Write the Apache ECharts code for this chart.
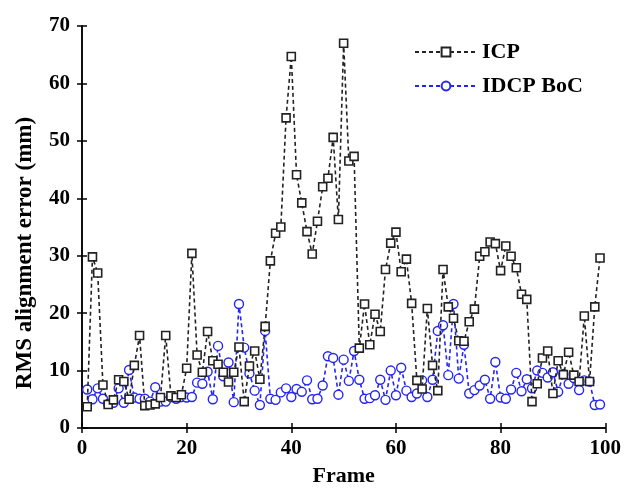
<!DOCTYPE html>
<html>
<head>
<meta charset="utf-8">
<script src="https://cdn.jsdelivr.net/npm/echarts@6/dist/echarts.min.js"></script>
<style>
html,body{margin:0;padding:0;background:#fff;}
#chart{width:624px;height:492px;}
</style>
</head>
<body>
<div id="chart"></div>
<script>
var seriesNames = ['ICP', 'IDCP BoC'];
var xTicks = [0, 20, 40, 60, 80, 100];
var yTicks = [0, 10, 20, 30, 40, 50, 60, 70];

var icp = [3.7, 29.8, 27.0, 7.5, 4.1, 4.9, 8.4, 8.1, 5.0, 10.9,
  16.1, 3.9, 4.0, 4.2, 5.3, 16.1, 5.6, 5.3, 5.8, 10.4,
  30.4, 12.7, 9.7, 16.8, 11.7, 11.1, 9.7, 8.0, 9.7, 14.1,
  4.6, 10.8, 13.4, 8.5, 17.7, 29.1, 33.9, 35.0, 54.0, 64.7,
  44.1, 39.2, 34.2, 30.3, 36.0, 42.0, 43.5, 50.6, 36.3, 67.0,
  46.5, 47.3, 13.9, 21.6, 14.5, 19.8, 16.8, 27.6, 32.2, 34.1,
  27.2, 29.4, 21.7, 8.3, 6.8, 20.8, 10.9, 6.5, 27.6, 21.1,
  19.1, 15.2, 15.1, 18.5, 20.7, 29.9, 30.7, 32.4, 32.1, 27.4,
  31.7, 29.9, 27.9, 23.3, 22.4, 4.6, 7.7, 12.2, 13.4, 6.0,
  11.7, 9.3, 13.2, 9.2, 8.1, 19.5, 8.1, 21.1, 29.6];

var idcp = [6.7, 5.0, 6.9, 5.1, 4.2, 4.4, 6.9, 4.4, 10.1, 5.3,
  5.1, 5.1, 4.6, 7.1, 4.6, 4.6, 5.4, 5.1, 5.4, 5.3,
  5.4, 7.9, 7.7, 9.8, 5.0, 14.3, 9.0, 11.4, 4.5, 21.6,
  14.0, 9.5, 6.5, 4.0, 16.9, 5.1, 4.9, 6.2, 6.9, 5.4,
  6.8, 6.3, 8.3, 5.0, 5.1, 7.4, 12.5, 12.2, 5.8, 11.9,
  8.2, 13.4, 8.4, 5.1, 5.2, 5.7, 8.4, 4.9, 10.0, 5.7,
  10.5, 6.5, 5.4, 6.0, 8.3, 5.4, 8.4, 16.9, 17.9, 9.2,
  21.6, 8.6, 14.5, 6.0, 6.6, 7.4, 8.4, 5.1, 11.5, 5.3,
  5.1, 6.7, 9.6, 6.4, 8.5, 6.9, 10.0, 9.6, 8.8, 9.7,
  6.3, 9.4, 7.7, 8.7, 6.6, 8.3, 8.1, 4.0, 4.1];

function pairs(arr) {
  return arr.map(function (v, i) { return [i + 1, v]; });
}

var FONT = '"Liberation Serif", "Times New Roman", serif';
var BLUE = '#2424f5';

var axisCommon = {
  axisLine: { show: true, lineStyle: { color: '#000', width: 1.5 } },
  axisTick: { show: true, inside: true, length: 5, lineStyle: { color: '#000', width: 1.5 } },
  splitLine: { show: false }
};

var chart = echarts.init(document.getElementById('chart'), null, { renderer: 'canvas' });
chart.setOption({
  backgroundColor: '#fff',
  animation: false,
  grid: { left: 82, right: 17, top: 26, bottom: 55 },
  legend: {
    orient: 'vertical',
    left: 409,
    top: 36,
    itemWidth: 62,
    itemHeight: 11,
    itemGap: 12,
    textStyle: { fontFamily: FONT, fontSize: 22, fontWeight: 'bold', color: '#000' },
    data: seriesNames
  },
  xAxis: [
    Object.assign({}, axisCommon, {
      type: 'value', min: xTicks[0], max: xTicks[xTicks.length - 1], interval: 20,
      position: 'bottom',
      name: 'Frame', nameLocation: 'middle', nameGap: 37,
      nameTextStyle: { fontFamily: FONT, fontSize: 22, fontWeight: 'bold', color: '#000' },
      axisLabel: { fontFamily: FONT, fontSize: 21, fontWeight: 'bold', color: '#000', margin: 10 }
    }),
    Object.assign({}, axisCommon, {
      type: 'value', min: xTicks[0], max: xTicks[xTicks.length - 1], interval: 20,
      position: 'top', axisLabel: { show: false }
    })
  ],
  yAxis: [
    Object.assign({}, axisCommon, {
      type: 'value', min: yTicks[0], max: yTicks[yTicks.length - 1], interval: 10,
      position: 'left',
      name: 'RMS alignment error (mm)', nameLocation: 'middle', nameGap: 45,
      nameTextStyle: { fontFamily: FONT, fontSize: 23, fontWeight: 'bold', color: '#000', padding: [0, 52, 0, 0] },
      axisLabel: { fontFamily: FONT, fontSize: 21, fontWeight: 'bold', color: '#000', margin: 12 }
    }),
    Object.assign({}, axisCommon, {
      type: 'value', min: yTicks[0], max: yTicks[yTicks.length - 1], interval: 10,
      position: 'right', axisLabel: { show: false }
    })
  ],
  series: [
    {
      name: seriesNames[0], type: 'line', data: pairs(icp),
      symbol: 'rect', symbolSize: 8,
      itemStyle: { color: '#fff', borderColor: '#222', borderWidth: 1.6 },
      lineStyle: { color: '#222', width: 1.6, type: [4, 3] },
      z: 3
    },
    {
      name: seriesNames[1], type: 'line', data: pairs(idcp),
      symbol: 'circle', symbolSize: 9,
      itemStyle: { color: '#fff', borderColor: BLUE, borderWidth: 1.4 },
      lineStyle: { color: BLUE, width: 1.6, type: [4, 3] },
      z: 2
    }
  ]
});
</script>
</body>
</html>
